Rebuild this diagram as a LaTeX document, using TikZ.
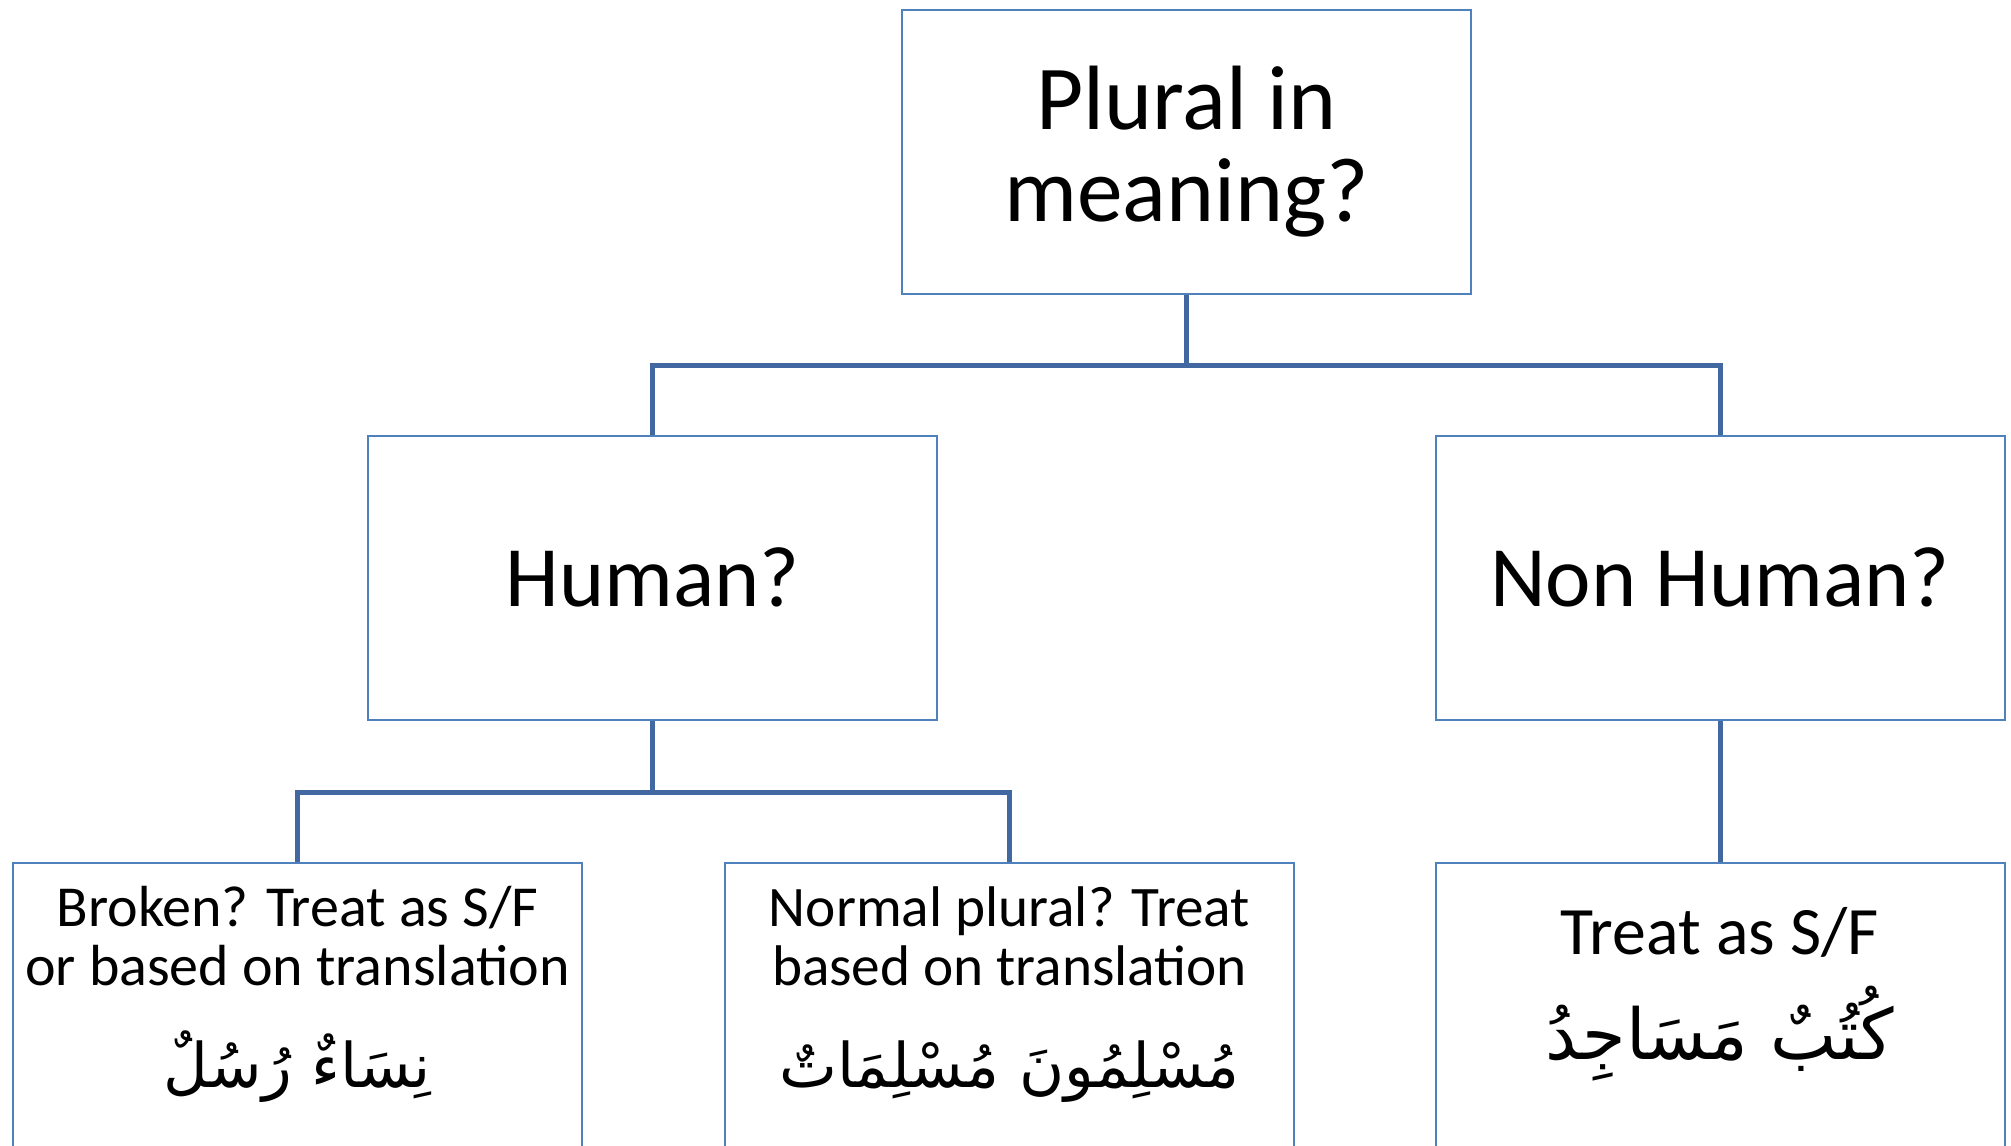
\documentclass[tikz,border=0pt]{standalone}
\usepackage{fontspec}
\setmainfont{Carlito}
\newfontfamily\arabicfont[Script=Arabic]{DejaVu Sans}
\TeXXeTstate=1
\definecolor{BoxColor}{RGB}{79,129,189}
\definecolor{LinkColor}{RGB}{65,104,160}
\usetikzlibrary{positioning}
\tikzstyle{qbox} = [draw=BoxColor, line width=0.2mm, minimum width=56.9mm, minimum height=28.4mm, align=center, font=\fontsize{24.5}{26}\selectfont]
\tikzstyle{leafbox} = [qbox, font=\fontsize{16.5}{17}\selectfont]
\tikzstyle{link} = [LinkColor, line width=0.5mm]
\newcommand{\arab}[2][17.5]{{\arabicfont\fontsize{#1}{20}\selectfont\beginR #2\endR}}
\newcommand{\lowstrut}[1]{\rule[-#1]{0pt}{#1}}

\begin{document}
\begin{tikzpicture}[x=0.1mm, y=-0.1mm]
                \useasboundingbox (0,0) rectangle (2011,1145);
                \clip (0,0) rectangle (2011,1145);

                % Question boxes
                \node[qbox, font=\fontsize{26}{26}\selectfont] (plural) at (1186.5,151.5) {Plural in\\meaning?};
                \node[qbox] (human) at (652.5,577.5) {Human?};
                \node[qbox] (nonhuman) at (1720,577.5) {Non Human?};

                % Answer boxes
                \node[leafbox] (broken) at (297.5,1004.5) {Broken? Treat as S/F\\or based on translation\\[12pt]\arab{نِسَاءٌ رُسُلٌ}\lowstrut{10pt}};
                \node[leafbox, font=\fontsize{16.3}{17}\selectfont] (normal) at (1009.5,1004.5) {Normal plural? Treat\\based on translation\\[12pt]\arab{مُسْلِمُونَ مُسْلِمَاتٌ}\lowstrut{10pt}};
                \node[leafbox, font=\fontsize{19.3}{20}\selectfont] (treat) at (1720,1004.5) {Treat as S/F\\[7pt]\arab[20]{كُتُبٌ مَسَاجِدُ}\lowstrut{12pt}};

                % Tree connectors
                \draw[link] (plural.south) -- ++(0,71) coordinate (pluraljoin) -| (human.north);
                \draw[link] (pluraljoin) -| (nonhuman.north);
                \draw[link] (human.south) -- ++(0,72) coordinate (humanjoin) -| (broken.north);
                \draw[link] (humanjoin) -| (normal.north);
                \draw[link] (nonhuman.south) -- (treat.north);
            \end{tikzpicture}
\end{document}
